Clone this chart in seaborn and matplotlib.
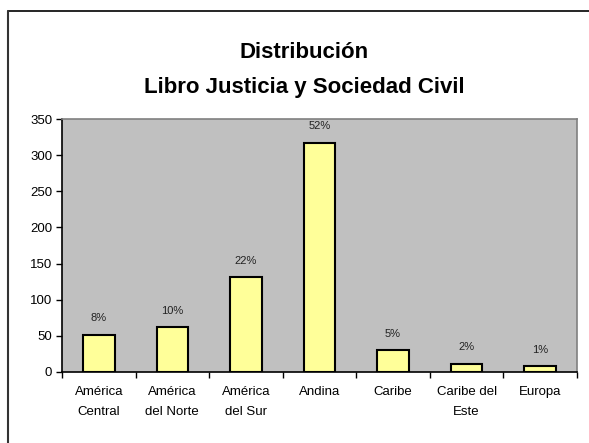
import matplotlib
matplotlib.use('Agg')
import matplotlib.pyplot as plt
import seaborn as sns
import pandas as pd

# data
regions = ['América\nCentral', 'América\ndel Norte', 'América\ndel Sur', 'Andina',
           'Caribe', 'Caribe del\nEste', 'Europa']
books = [51, 62, 131, 317, 30, 11, 8]
shares = ['8%', '10%', '22%', '52%', '5%', '2%', '1%']

df = pd.DataFrame({'region': regions, 'books': books})

sns.set_style('white')
plt.rcParams['font.family'] = ['Liberation Sans', 'DejaVu Sans']
plt.rcParams['text.color'] = 'black'
plt.rcParams['xtick.color'] = 'black'
plt.rcParams['ytick.color'] = 'black'

fig = plt.figure(figsize=(5.89, 4.43), dpi=100)
ax = fig.add_axes([62 / 589, 1 - 372 / 443, 515 / 589, 253 / 443])
ax.set_facecolor('#C0C0C0')

sns.barplot(data=df, x='region', y='books', color='#FFFF99', width=0.43,
            edgecolor='black', linewidth=1.5, saturation=1, ax=ax)

for i, (v, s) in enumerate(zip(books, shares)):
    ax.annotate(s, (i, v), xytext=(0, 12), textcoords='offset points',
                ha='center', va='center', fontsize=8, color='#222222')

ax.set_xlim(-0.5, len(regions) - 0.5)
ax.set_ylim(0, 350)
ax.set_yticks(range(0, 351, 50))
ax.set_xlabel('')
ax.set_ylabel('')

# x ticks at category borders, labels at centres
ax.set_xticks([i + 0.5 for i in range(-1, len(regions))], minor=True)
ax.set_xticks(range(len(regions)))
ax.set_xticklabels(regions, linespacing=1.85)
ax.tick_params(axis='x', which='major', length=0, pad=10, labelsize=9.5)
ax.tick_params(axis='x', which='minor', bottom=True, length=4, width=1,
               direction='out', color='black')
ax.tick_params(axis='y', left=True, length=4, width=1, direction='out', color='black',
               labelsize=9.5, pad=3)

for side in ['top', 'right']:
    ax.spines[side].set_color('#808080')
    ax.spines[side].set_linewidth(1.2)
for side in ['left', 'bottom']:
    ax.spines[side].set_color('black')
    ax.spines[side].set_linewidth(1.2)

fig.text(304 / 589, 1 - 58 / 443, 'Distribución', ha='center', va='baseline',
         fontsize=16, fontweight='bold', color='black')
fig.text(304 / 589, 1 - 93 / 443, 'Libro Justicia y Sociedad Civil', ha='center', va='baseline',
         fontsize=16, fontweight='bold', color='black')

# outer chart frame (cropped on the right and bottom)
fig.add_artist(plt.Line2D([8 / 589, 1], [1 - 10.5 / 443] * 2, color='black', lw=1.2,
                          transform=fig.transFigure))
fig.add_artist(plt.Line2D([8 / 589] * 2, [0, 1 - 10.5 / 443], color='#333333', lw=1.5,
                          transform=fig.transFigure))

fig.savefig('out.png', dpi=100)
